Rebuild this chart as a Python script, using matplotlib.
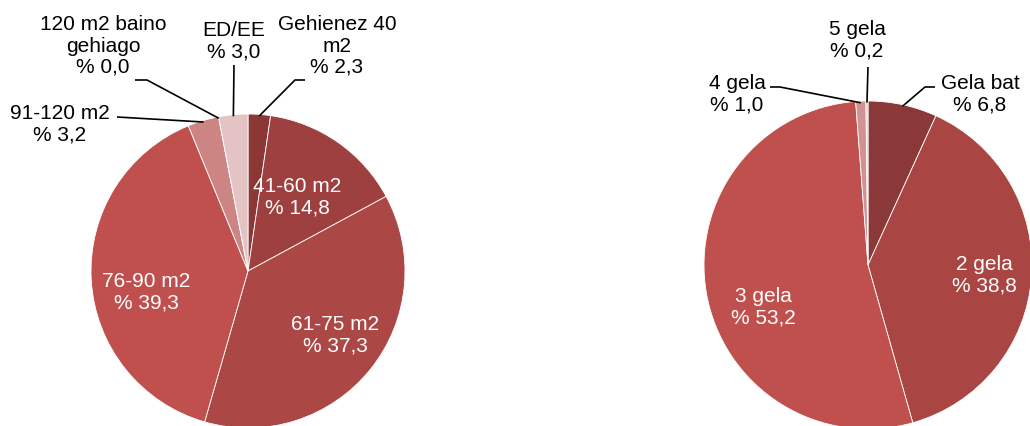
import numpy as np
import matplotlib.pyplot as plt

plt.rcParams['font.family'] = ['Liberation Sans', 'DejaVu Sans']

# left pie: dwelling size
size_labels = ['Gehienez 40\nm2', '41-60 m2', '61-75 m2', '76-90 m2',
               '91-120 m2', '120 m2 baino\ngehiago', 'ED/EE']
size_values = [2.3, 14.8, 37.3, 39.3, 3.2, 0.0, 3.0]
size_colors = ['#8b3736', '#9e4040', '#ab4846', '#c0504d',
               '#cd8583', '#d9a9a8', '#e3c3c3']

# right pie: number of rooms
room_labels = ['Gela bat', '2 gela', '3 gela', '4 gela', '5 gela']
room_values = [6.8, 38.8, 53.2, 1.0, 0.2]
room_colors = ['#8b3938', '#a94644', '#c0504d', '#d09392', '#e6c5c5']

W, H = 1030, 426
fig = plt.figure(figsize=(W / 100, H / 100), dpi=100)
ax = fig.add_axes([0, 0, 1, 1])

FS = 15


def fmt(lab, v):
    return '{}\n% {}'.format(lab, ('%.1f' % v).replace('.', ','))


def rim(values, i, c, r, frac=1.0):
    cum = np.cumsum([0] + list(values))
    mid = (cum[i] + cum[i + 1]) / 2.0 / sum(values)
    ang = np.deg2rad(90 - 360 * mid)
    return c[0] + r * frac * np.cos(ang), c[1] + r * frac * np.sin(ang)


def draw_pie(values, colors, labels, c, r, inside, outside):
    ax.pie(values, colors=colors, startangle=90, counterclock=False,
           center=c, radius=r,
           wedgeprops=dict(edgecolor='white', linewidth=0.6))
    for i, (x, y) in inside.items():
        ax.text(x, H - y, fmt(labels[i], values[i]), color='white', fontsize=FS,
                ha='center', va='center', linespacing=1.15)
    for i, (x, y, elbow, end) in outside.items():
        ax.text(x, H - y, fmt(labels[i], values[i]), color='black', fontsize=FS,
                ha='center', va='center', linespacing=1.15)
        px, py = rim(values, i, c, r, 0.99)
        xs = [px] + [p[0] for p in elbow] + [end[0]]
        ys = [py] + [H - p[1] for p in elbow] + [H - end[1]]
        ax.plot(xs, ys, color='black', lw=1.2, solid_capstyle='butt')


draw_pie(size_values, size_colors, size_labels, (248, H - 271), 157,
         inside={1: (297, 197), 2: (335, 335), 3: (146, 292)},
         outside={
             0: (337, 46, [(295, 80)], (305, 80)),
             6: (234, 41, [(234, 65)], (234, 65)),
             5: (103, 46, [(147, 80)], (135, 80)),
             4: (60, 124, [(117, 117)], (117, 117)),
         })

draw_pie(room_values, room_colors, room_labels, (868, H - 265), 164,
         inside={1: (984, 275), 2: (763, 307)},
         outside={
             0: (980, 94, [(925, 87)], (935, 87)),
             3: (737, 94, [(780, 87)], (770, 87)),
             4: (857, 40, [(868, 67)], (868, 67)),
         })

ax.set_xlim(0, W)
ax.set_ylim(0, H)
ax.set_aspect('equal')
ax.axis('off')

fig.savefig('out.png', dpi=100, facecolor='white')
